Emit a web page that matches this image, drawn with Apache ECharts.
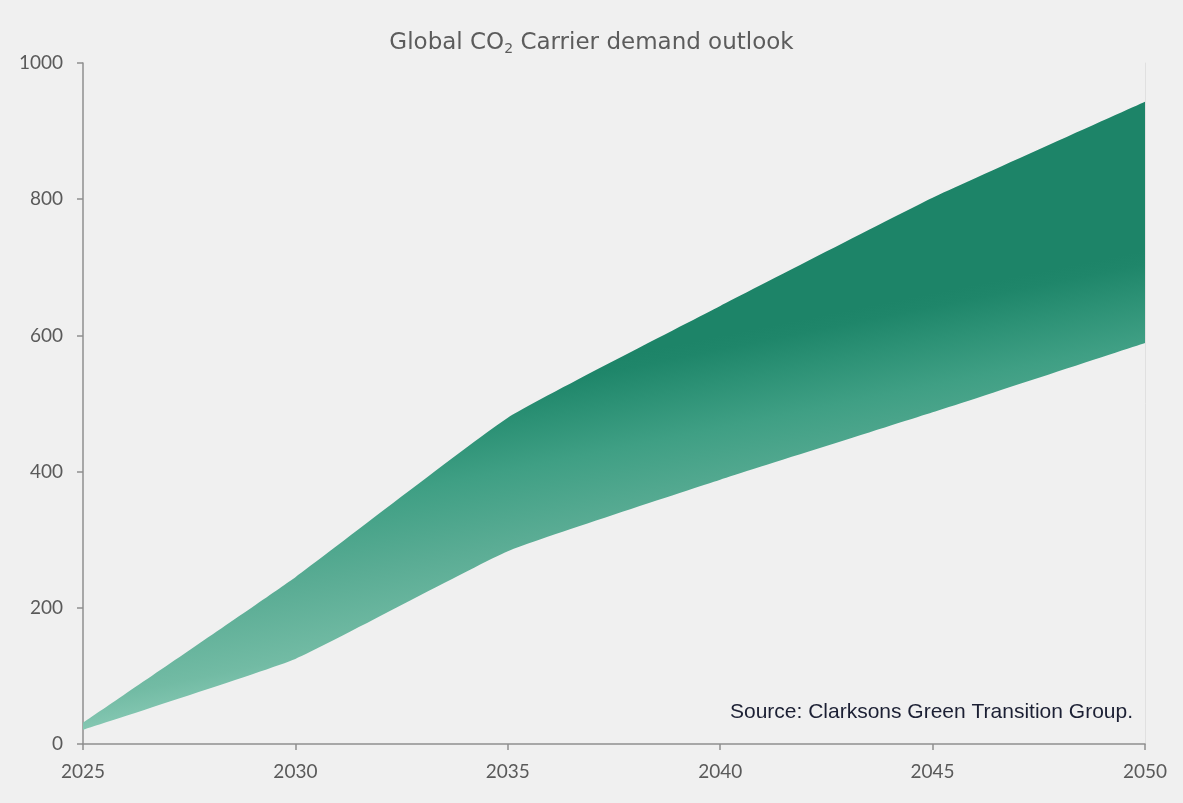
<!DOCTYPE html>
<html>
<head>
<meta charset="utf-8">
<script src="https://cdn.jsdelivr.net/npm/echarts@6/dist/echarts.min.js"></script>
<style>
  html, body { margin: 0; padding: 0; background: #f0f0f0; }
  #chart { width: 1183px; height: 803px; }
</style>
</head>
<body>
<div id="chart"></div>
<script>
// Demand outlook band: low and high scenarios by year
const years = ['2025', '2030', '2035', '2040', '2045', '2050'];
const lowCase = [21, 125, 283, 388, 487, 589];
const highCase = [31, 245, 479, 643, 802, 943];
const yTicks = [0, 200, 400, 600, 800, 1000];

const bandWidth = highCase.map((v, i) => v - lowCase[i]);

const chart = echarts.init(document.getElementById('chart'));
const axisGrey = '#8f8f8f';
const labelGrey = '#5a5a5a';

// Fill shading runs from dark green (upper right) to pale teal (lower left)
const bandFill = new echarts.graphic.LinearGradient(92, 462, 144, 721, [
  { offset: 0, color: '#1d8468' },
  { offset: 0.05, color: '#1f866a' },
  { offset: 0.17, color: '#2c9175' },
  { offset: 0.34, color: '#3f9f84' },
  { offset: 0.61, color: '#5aac94' },
  { offset: 0.88, color: '#72bba4' },
  { offset: 1, color: '#86c8b3' }
], true);

chart.setOption({
  backgroundColor: '#f0f0f0',
  animation: false,
  title: {
    text: 'Global CO{sub|2} Carrier demand outlook',
    left: 'center',
    top: 25,
    textStyle: {
      fontFamily: 'DejaVu Sans',
      fontSize: 23,
      fontWeight: 'normal',
      color: '#5c5c5c',
      rich: {
        sub: { fontFamily: 'DejaVu Sans', fontSize: 14, color: '#5c5c5c', verticalAlign: 'bottom', padding: [12, 0, 0, 0] }
      }
    }
  },
  graphic: [{
    type: 'text',
    right: 50,
    top: 702,
    style: {
      text: 'Source: Clarksons Green Transition Group.',
      font: '21px "Liberation Sans", Arial, sans-serif',
      fill: '#1c2034'
    }
  }],
  grid: { left: 83, right: 38, top: 63, bottom: 59 },
  xAxis: {
    type: 'category',
    data: years,
    boundaryGap: false,
    axisLine: { lineStyle: { color: axisGrey, width: 1.5 } },
    axisTick: { alignWithLabel: true, length: 6, lineStyle: { color: axisGrey, width: 1.5 } },
    axisLabel: { color: labelGrey, fontFamily: 'Lato', fontSize: 19, margin: 18 },
    splitLine: { show: false }
  },
  yAxis: [{
    type: 'value',
    min: 0,
    max: 1000,
    interval: 200,
    axisLine: { show: true, lineStyle: { color: axisGrey, width: 1.5 } },
    axisTick: { show: true, length: 6, lineStyle: { color: axisGrey, width: 1.5 } },
    axisLabel: {
      color: labelGrey, fontFamily: 'Lato', fontSize: 19, margin: 20,
      formatter: v => (yTicks.includes(v) ? String(v) : '')
    },
    splitLine: { show: false }
  }, {
    type: 'value',
    position: 'right',
    min: 0,
    max: 1000,
    interval: 200,
    axisLine: { show: true, lineStyle: { color: '#e0e0e0', width: 1 } },
    axisTick: { show: false },
    axisLabel: { show: false },
    splitLine: { show: false }
  }],
  series: [
    {
      name: 'Low',
      type: 'line',
      stack: 'band',
      data: lowCase,
      smooth: 0.12,
      symbol: 'none',
      lineStyle: { opacity: 0 },
      areaStyle: { opacity: 0 }
    },
    {
      name: 'Range',
      type: 'line',
      stack: 'band',
      data: bandWidth,
      smooth: 0.12,
      symbol: 'none',
      lineStyle: { opacity: 0 },
      areaStyle: { opacity: 1, color: bandFill }
    }
  ]
});
</script>
</body>
</html>
